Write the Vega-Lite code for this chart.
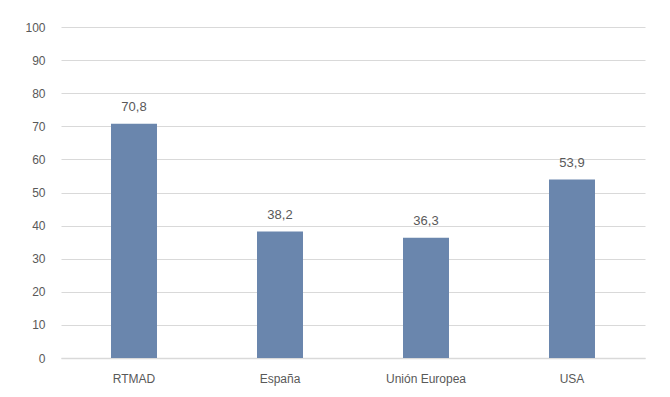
{
  "$schema": "https://vega.github.io/schema/vega-lite/v6.json",
  "width": 584,
  "height": 331,
  "autosize": {"type": "none"},
  "padding": {"left": 61, "top": 27, "right": 25, "bottom": 39},
  "background": "white",
  "config": {"view": {"stroke": null}, "font": "Liberation Sans"},
  "data": {"values": [
    {"region": "RTMAD", "value": 70.8, "label": "70,8"},
    {"region": "España", "value": 38.2, "label": "38,2"},
    {"region": "Unión Europea", "value": 36.3, "label": "36,3"},
    {"region": "USA", "value": 53.9, "label": "53,9"}
  ]},
  "encoding": {
    "x": {"field": "region", "type": "nominal", "sort": null,
      "scale": {"paddingInner": 0.685, "paddingOuter": 0.3425},
      "axis": {"title": null, "labelAngle": 0, "ticks": false, "domainColor": "#d9d9d9", "domainWidth": 1.5, "labelColor": "#595959", "labelFontSize": 12, "labelPadding": 15, "grid": false}},
    "y": {"field": "value", "type": "quantitative",
      "scale": {"domain": [0, 100], "nice": false},
      "axis": {"title": null, "values": [0,10,20,30,40,50,60,70,80,90,100], "domain": false, "ticks": false, "gridColor": "#d9d9d9", "labelColor": "#595959", "labelFontSize": 12, "labelPadding": 16}}
  },
  "layer": [
    {"mark": {"type": "bar", "color": "#6a86ad"}},
    {"mark": {"type": "text", "baseline": "bottom", "dy": -10, "fontSize": 13, "color": "#595959"},
     "encoding": {"text": {"field": "label"}}}
  ]
}
